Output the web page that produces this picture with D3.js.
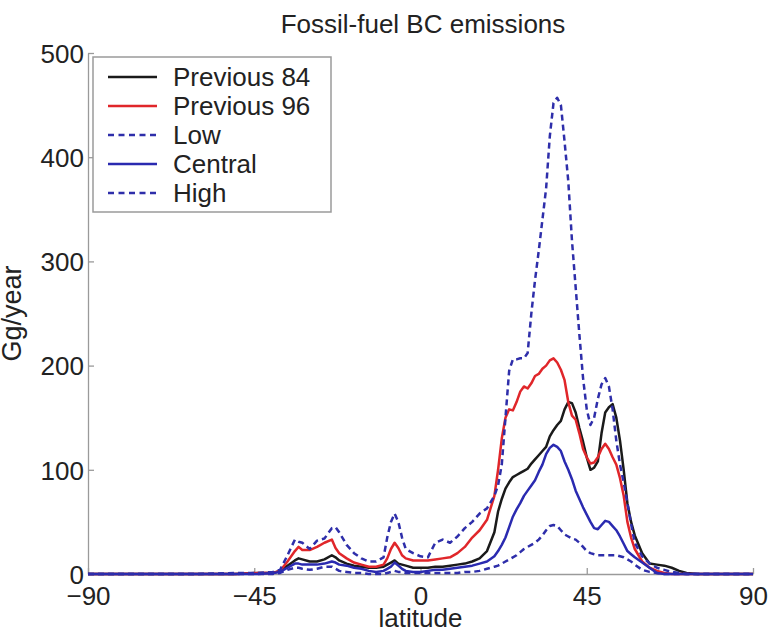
<!DOCTYPE html>
<html>
<head>
<meta charset="utf-8">
<script src="https://cdn.jsdelivr.net/npm/d3@7"></script>
<style>
  body { margin: 0; background: #fff; }
  svg { display: block; font-family: "Liberation Sans", Arial, Helvetica, sans-serif; }
</style>
</head>
<body>
<div class="container"></div>
<script>
// DATA
// latitude grid the curves were read at (degrees)
const latitude = [
  -90, -60, -50, -44, -40,
  -38, -36, -34, -33, -32, -30, -28, -26, -24, -23, -22, -20,
  -18, -16, -14, -12, -10, -9, -8, -7, -6, -5, -4, -2, 0,
  2, 4, 6, 8, 10, 12, 14, 16, 18, 20,
  21, 22, 23, 24, 25, 26, 27, 28, 29, 30, 31, 32, 33, 34, 35, 36, 37, 38, 39, 40,
  41, 42, 43, 44, 45, 46, 47, 48, 49, 50, 51, 52, 53, 54, 55, 56, 57, 58,
  60, 62, 64, 66, 68, 70, 72, 75, 80, 90
];

// emissions, Gg/year
const previous84 = [
  0, 0, 0, 1, 1,
  3, 8, 13, 15, 14, 12, 12, 14, 18, 16, 13, 10,
  8, 7, 6, 6, 7, 9, 11, 13, 10, 9, 8, 6, 6,
  6, 7, 7, 8, 9, 10, 12, 15, 22, 40,
  60, 72, 82, 88, 93, 95, 97, 99, 101, 106, 110, 114, 118, 122, 132, 138, 143, 147, 158, 165,
  164, 155, 140, 127, 112, 100, 102, 108, 135, 155, 160, 163, 150, 128, 100, 68, 50, 37,
  20, 10, 9, 8, 6, 3, 1, 0, 0, 0
];

const previous96 = [
  0, 0, 0, 1, 1,
  3, 12, 22, 26, 23, 23, 26, 30, 33, 25, 20, 15,
  11, 9, 7, 7, 9, 15, 24, 30, 25, 18, 15, 13, 13,
  13, 14, 15, 16, 20, 26, 35, 42, 52, 75,
  100, 130, 150, 158, 157, 165, 175, 180, 178, 183, 190, 192, 197, 200, 205, 207, 203, 196, 186, 165,
  152, 148, 135, 120, 112, 106, 107, 112, 120, 125, 120, 112, 105, 92, 75, 50, 35, 24,
  12, 6, 3, 1, 0, 0, 0, 0, 0, 0
];

const lowEstimate = [
  0, 0, 0, 0, 0,
  1, 4, 6, 6, 5, 4, 5, 7, 7, 5, 3, 2,
  1, 1, 0, 0, 0, 1, 2, 3, 2, 2, 1, 1, 1,
  1, 1, 1, 1, 1, 2, 2, 3, 5, 7,
  8, 10, 12, 14, 16, 18, 21, 24, 26, 28, 30, 33, 37, 42, 46, 47, 46, 42, 38, 36,
  34, 33, 30, 26, 22, 20, 19, 18, 18, 18, 18, 18, 18, 17, 16, 14, 12, 9,
  4, 2, 1, 0, 0, 0, 0, 0, 0, 0
];

const centralEstimate = [
  0, 0, 0, 0, 1,
  2, 6, 10, 10, 9, 9, 9, 10, 12, 11, 9, 8,
  6, 5, 3, 2, 3, 5, 7, 11, 8, 5, 3, 2, 2,
  3, 4, 4, 5, 6, 7, 8, 10, 12, 17,
  22, 28, 35, 45, 55, 62, 68, 75, 80, 85, 90, 98, 105, 115, 121, 124, 122, 118, 108, 100,
  91, 80, 72, 64, 57, 50, 44, 43, 47, 51, 50, 46, 42, 36, 29, 22, 19, 16,
  11, 6, 1, 0, 0, 0, 0, 0, 0, 0
];

const highEstimate = [
  0, 0, 1, 1, 2,
  4, 18, 33, 31, 30, 24, 32, 34, 44, 45, 40, 28,
  20, 15, 12, 12, 16, 35, 50, 58, 50, 35, 24, 20, 17,
  16, 30, 33, 30, 36, 44, 50, 58, 63, 75,
  85, 105, 150, 195, 206, 206, 207, 207, 212, 250, 282, 310, 340, 370, 420, 452, 457, 450, 415, 377,
  320, 275, 230, 188, 158, 143, 150, 168, 182, 188, 180, 158, 128, 105, 88, 68, 48, 30,
  17, 10, 6, 4, 2, 1, 0, 0, 0, 0
];

const seriesNames = ["Previous 84", "Previous 96", "Low", "Central", "High"];
const seriesValues = [previous84, previous96, lowEstimate, centralEstimate, highEstimate];
const seriesColors = ["#1a1a1a", "#e0262a", "#2e2eaa", "#2a2ab0", "#2e2eaa"];
const seriesDashed = [false, false, true, false, true];

const xTicks = [-90, -45, 0, 45, 90];
const yTicks = [0, 100, 200, 300, 400, 500];

// FRAME
const width = 770, height = 634;
const fontSize = 26;

const svg = d3.select(".container")
  .append("svg")
  .attr("width", width)
  .attr("height", height);

svg.append("rect").attr("width", width).attr("height", height).attr("fill", "#fff");

// SCALES
const xScale = d3.scaleLinear().domain([-90, 90]).range([88, 753]);
const yScale = d3.scaleLinear().domain([0, 500]).range([574, 53]);

// AXES - matlab style: inward ticks, no box
const xAxis = d3.axisBottom(xScale).tickValues(xTicks).tickSizeInner(-6).tickSizeOuter(0).tickPadding(13);
const yAxis = d3.axisLeft(yScale).tickValues(yTicks).tickSizeInner(-6).tickSizeOuter(0).tickPadding(4);

function styleAxis(g) {
  g.select(".domain").attr("stroke", "#9a9a9a").attr("stroke-width", 1.3);
  g.selectAll(".tick line").attr("stroke", "#9a9a9a").attr("stroke-width", 1.3);
  g.selectAll(".tick text")
    .attr("fill", "#222")
    .style("font-size", fontSize + "px")
    .style("font-family", "'Liberation Sans', Arial, Helvetica, sans-serif");
}

svg.append("g")
  .attr("transform", `translate(0, ${yScale(0)})`)
  .call(xAxis)
  .call(styleAxis);

svg.append("g")
  .attr("transform", `translate(${xScale(-90)}, 0)`)
  .call(yAxis)
  .call(styleAxis)
  .call(g => g.selectAll(".tick text").attr("dy", "0.36em"));

// LINES
const line = d3.line()
  .x((d, i) => xScale(latitude[i]))
  .y(d => yScale(d));

svg.append("g")
  .selectAll("path")
  .data(seriesValues)
  .join("path")
  .attr("d", d => line(d))
  .attr("fill", "none")
  .attr("stroke", (d, i) => seriesColors[i])
  .attr("stroke-width", 2.5)
  .attr("stroke-linejoin", "round")
  .attr("stroke-dasharray", (d, i) => seriesDashed[i] ? "6,4" : null);

// TITLES
svg.append("text")
  .attr("x", 423)
  .attr("y", 33)
  .attr("text-anchor", "middle")
  .attr("fill", "#222")
  .style("font-size", fontSize + "px")
  .text("Fossil-fuel BC emissions");

svg.append("text")
  .attr("x", xScale(0))
  .attr("y", 627)
  .attr("text-anchor", "middle")
  .attr("fill", "#222")
  .style("font-size", fontSize + "px")
  .text("latitude");

svg.append("text")
  .attr("transform", `translate(21, ${yScale(250)}) rotate(-90)`)
  .attr("text-anchor", "middle")
  .attr("fill", "#222")
  .style("font-size", "27px")
  .text("Gg/year");

// LEGEND
const legend = svg.append("g").attr("id", "legend");

legend.append("rect")
  .attr("x", 93)
  .attr("y", 57)
  .attr("width", 238)
  .attr("height", 155)
  .attr("fill", "#fff")
  .attr("stroke", "#9a9a9a")
  .attr("stroke-width", 1.5);

const rows = legend.selectAll("g.row")
  .data(seriesNames)
  .join("g")
  .attr("class", "row")
  .attr("transform", (d, i) => `translate(0, ${77 + i * 29})`);

rows.append("line")
  .attr("x1", 108)
  .attr("x2", 157)
  .attr("stroke", (d, i) => seriesColors[i])
  .attr("stroke-width", 2.6)
  .attr("stroke-dasharray", (d, i) => seriesDashed[i] ? "6,4.5" : null);

rows.append("text")
  .attr("x", 173)
  .attr("y", 9)
  .attr("fill", "#222")
  .style("font-size", fontSize + "px")
  .text(d => d);
</script>
</body>
</html>
